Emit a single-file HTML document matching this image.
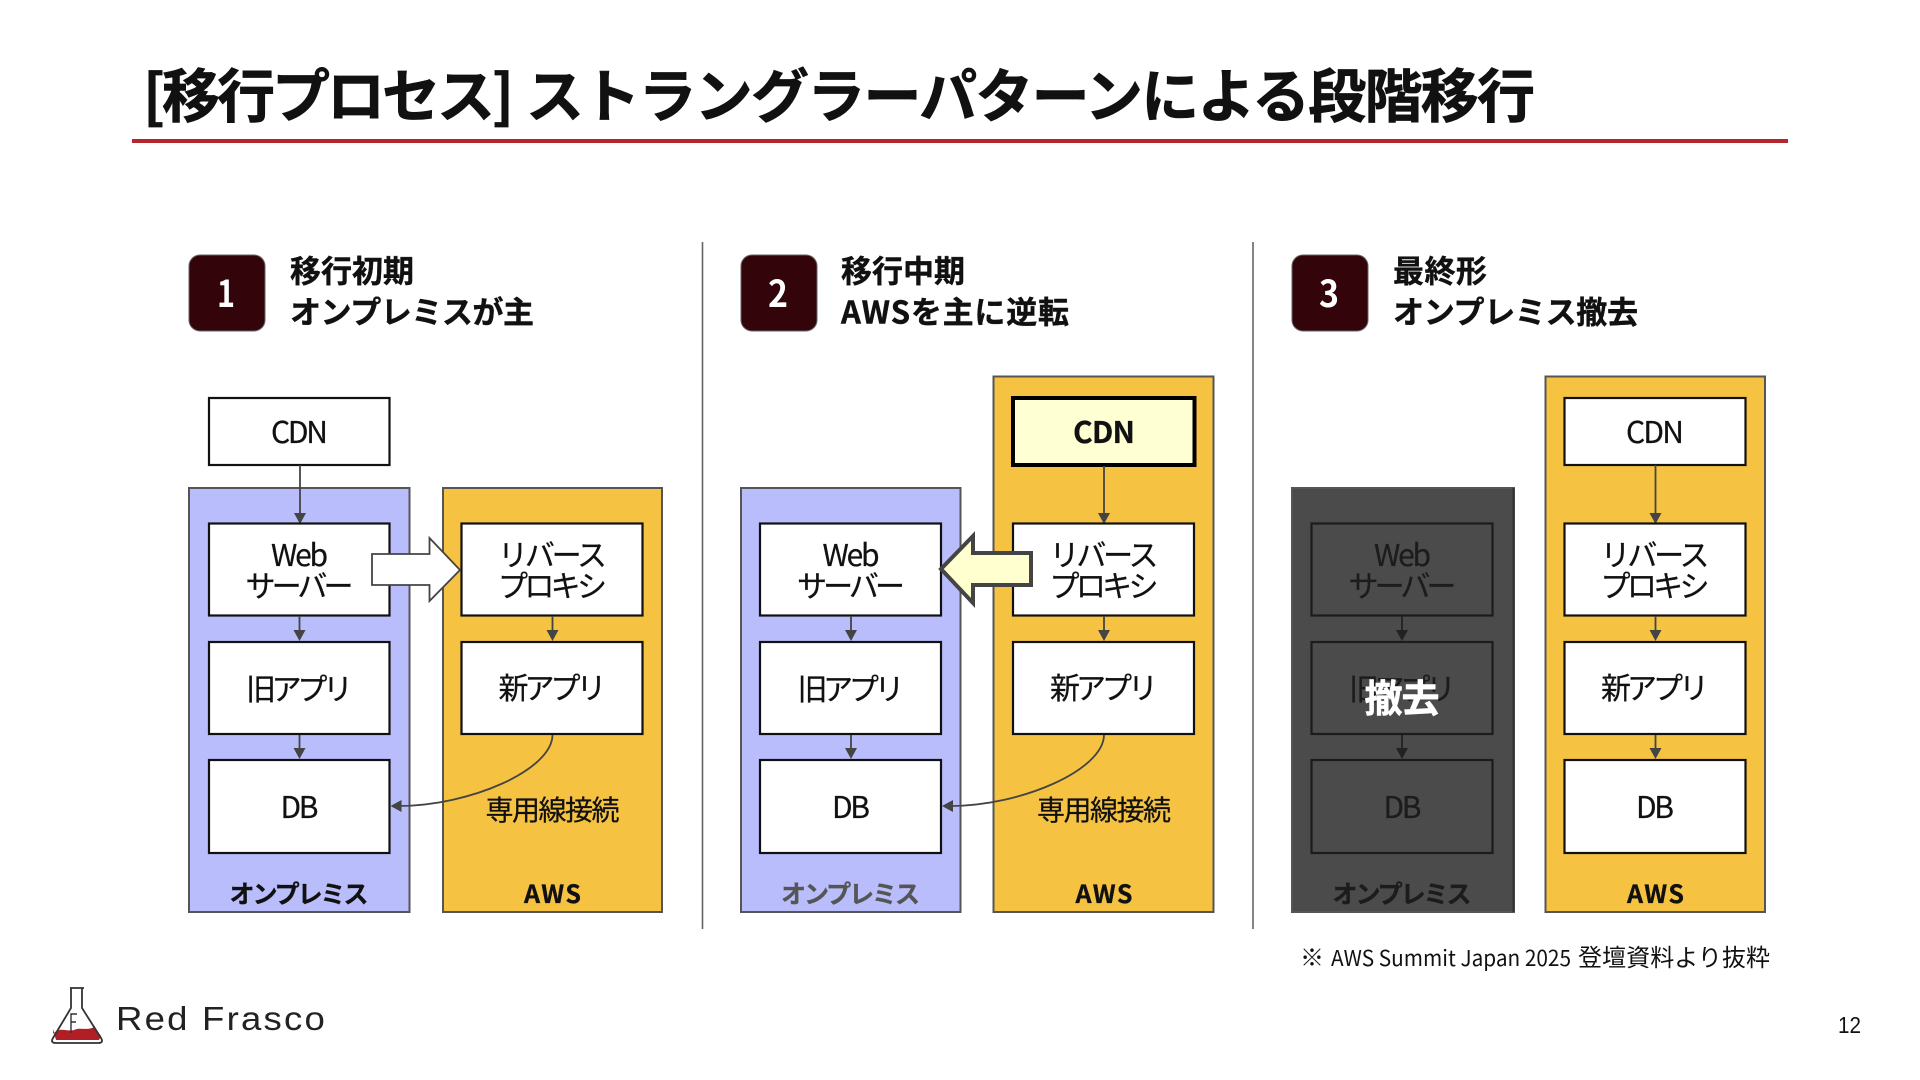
<!DOCTYPE html>
<html lang="ja">
<head>
<meta charset="utf-8">
<title>移行プロセス</title>
<style>
html,body{margin:0;padding:0;background:#fff;width:1920px;height:1080px;overflow:hidden}
svg{display:block}
text{font-family:"Noto Sans CJK JP","Liberation Sans",sans-serif;fill:#111}
.b{font-weight:700}
.t{stroke:#111;stroke-width:.7}
.h{stroke:#111;stroke-width:.4}
.c{text-anchor:middle;font-size:30px;stroke:#111;stroke-width:.25}
.l{text-anchor:middle;font-size:25px;font-weight:700;stroke:#111;stroke-width:.3}
.box{fill:#fff;stroke:#111;stroke-width:2.2}
.on{fill:#b9bdfb;stroke:#555;stroke-width:2}
.aws{fill:#f5c242;stroke:#555;stroke-width:2}
.ln{stroke:#444;stroke-width:1.8;fill:none}
.ah{fill:#444}
.dbox{fill:#4b4b4b;stroke:#1c1c1c;stroke-width:2.2}
.d{fill:#1c1c1c;stroke:#1c1c1c}
</style>
</head>
<body>
<svg xmlns="http://www.w3.org/2000/svg" width="1920" height="1080" viewBox="0 0 1920 1080">
<rect width="1920" height="1080" fill="#fff"/>

<!-- title -->
<text class="b t" x="143" y="117" font-size="58" textLength="371">[移行プロセス]</text>
<text class="b t" x="526" y="117" font-size="58" textLength="1009">ストラングラーパターンによる段階移行</text>
<rect x="132" y="139" width="1656" height="4" fill="#b2262c"/>

<!-- dividers -->
<line x1="702.5" y1="242" x2="702.5" y2="929" stroke="#666" stroke-width="1.6"/>
<line x1="1253" y1="242" x2="1253" y2="929" stroke="#666" stroke-width="1.6"/>

<!-- badges and headings -->
<rect x="189" y="255" width="76" height="76" rx="11" fill="#33040a" stroke="#666" stroke-width="1"/>
<text class="b" x="226" y="307" font-size="37" text-anchor="middle" textLength="18" lengthAdjust="spacingAndGlyphs" style="fill:#fff">1</text>
<text class="b h" x="290" y="282.5" font-size="31" textLength="124">移行初期</text>
<text class="b h" x="290" y="323.5" font-size="31" textLength="244">オンプレミスが主</text>

<rect x="741" y="255" width="76" height="76" rx="11" fill="#33040a" stroke="#666" stroke-width="1"/>
<text class="b" x="778" y="307" font-size="37" text-anchor="middle" textLength="20" lengthAdjust="spacingAndGlyphs" style="fill:#fff">2</text>
<text class="b h" x="841" y="282.5" font-size="31" textLength="124">移行中期</text>
<text class="b h" x="841" y="323.5" font-size="31" textLength="228">AWSを主に逆転</text>

<rect x="1292" y="255" width="76" height="76" rx="11" fill="#33040a" stroke="#666" stroke-width="1"/>
<text class="b" x="1329" y="307" font-size="37" text-anchor="middle" textLength="20" lengthAdjust="spacingAndGlyphs" style="fill:#fff">3</text>
<text class="b h" x="1393" y="282.5" font-size="31" textLength="94">最終形</text>
<text class="b h" x="1393" y="323.5" font-size="31" textLength="245">オンプレミス撤去</text>

<!-- panel 1 -->
<g>
<rect class="on" x="189" y="488" width="220.5" height="424"/>
<rect class="aws" x="443" y="488" width="219" height="424"/>
<rect class="box" x="209" y="398" width="180.5" height="67"/>
<text class="c" x="299.5" y="443" textLength="57">CDN</text>
<line class="ln" x1="300" y1="465" x2="300" y2="515"/><path class="ah" d="M294,513 L306,513 L300,524 Z"/>
<rect class="box" x="209" y="523.5" width="180.5" height="92"/>
<text class="c" x="299.5" y="566" textLength="57">Web</text>
<text class="c" x="299.5" y="597" textLength="108">サーバー</text>
<line class="ln" x1="299.5" y1="616" x2="299.5" y2="632"/><path class="ah" d="M293.5,630 L305.5,630 L299.5,641 Z"/>
<rect class="box" x="209" y="642" width="180.5" height="92"/>
<text class="c" x="299.5" y="700" textLength="107">旧アプリ</text>
<line class="ln" x1="299.5" y1="735" x2="299.5" y2="750"/><path class="ah" d="M293.5,748 L305.5,748 L299.5,759 Z"/>
<rect class="box" x="209" y="760" width="180.5" height="93"/>
<text class="c" x="299.5" y="818" textLength="38">DB</text>
<text class="l" x="299" y="903" textLength="139">オンプレミス</text>
<rect class="box" x="461.5" y="523.5" width="181" height="92"/>
<text class="c" x="552.5" y="566" textLength="109">リバース</text>
<text class="c" x="552.5" y="597" textLength="109">プロキシ</text>
<line class="ln" x1="552.5" y1="616" x2="552.5" y2="632"/><path class="ah" d="M546.5,630 L558.5,630 L552.5,641 Z"/>
<rect class="box" x="461.5" y="642" width="181" height="92"/>
<text class="c" x="552.5" y="699" textLength="108">新アプリ</text>
<text class="c" x="552.5" y="820" style="font-size:28px" textLength="134">専用線接続</text>
<text class="l" x="552.5" y="903" textLength="57">AWS</text>
<path class="ln" d="M552.5,735 C552,770 470,806 398,806"/><path class="ah" d="M390.5,806 L401.5,800 L401.5,812 Z"/>
<path d="M372,554 H429.5 V538 L460,570 L429.5,601 V585 H372 Z" fill="#fff" stroke="#444" stroke-width="1.8"/>
</g>

<!-- panel 2 -->
<g transform="translate(551.5,0)">
<rect class="on" x="189.5" y="488" width="219.5" height="424"/>
<rect class="aws" x="442" y="376.5" width="220" height="535.5"/>
<rect class="box" x="208.5" y="523.5" width="181" height="92"/>
<text class="c" x="299.5" y="566" textLength="57">Web</text>
<text class="c" x="299.5" y="597" textLength="108">サーバー</text>
<line class="ln" x1="299.5" y1="616" x2="299.5" y2="632"/><path class="ah" d="M293.5,630 L305.5,630 L299.5,641 Z"/>
<rect class="box" x="208.5" y="642" width="181" height="92"/>
<text class="c" x="299.5" y="700" textLength="107">旧アプリ</text>
<line class="ln" x1="299.5" y1="735" x2="299.5" y2="750"/><path class="ah" d="M293.5,748 L305.5,748 L299.5,759 Z"/>
<rect class="box" x="208.5" y="760" width="181" height="93"/>
<text class="c" x="299.5" y="818" textLength="38">DB</text>
<text class="l" x="299" y="903" textLength="139" style="fill:#555;stroke:#555">オンプレミス</text>
<rect x="461.5" y="398" width="181.5" height="67" fill="#ffffd4" stroke="#000" stroke-width="4"/>
<text class="c b" x="552.5" y="443" textLength="62">CDN</text>
<line class="ln" x1="552.5" y1="466" x2="552.5" y2="515"/><path class="ah" d="M546.5,513 L558.5,513 L552.5,524 Z"/>
<rect class="box" x="461.5" y="523.5" width="181" height="92"/>
<text class="c" x="552.5" y="566" textLength="109">リバース</text>
<text class="c" x="552.5" y="597" textLength="109">プロキシ</text>
<line class="ln" x1="552.5" y1="616" x2="552.5" y2="632"/><path class="ah" d="M546.5,630 L558.5,630 L552.5,641 Z"/>
<rect class="box" x="461.5" y="642" width="181" height="92"/>
<text class="c" x="552.5" y="699" textLength="108">新アプリ</text>
<text class="c" x="552.5" y="820" style="font-size:28px" textLength="134">専用線接続</text>
<text class="l" x="552.5" y="903" textLength="57">AWS</text>
<path class="ln" d="M552.5,735 C552,770 470,806 398,806"/><path class="ah" d="M390.5,806 L401.5,800 L401.5,812 Z"/>
</g>
<path d="M1031,553 H973 V536 L941,569 L973,603 V585 H1031 Z" fill="#ffffd0" stroke="#444" stroke-width="4"/>

<!-- panel 3 -->
<g transform="translate(1103,0)">
<rect x="189" y="488" width="222" height="424" fill="#4b4b4b" stroke="#555" stroke-width="2"/>
<rect x="409.5" y="488" width="2" height="424" fill="#333"/>
<rect class="aws" x="442.5" y="376.5" width="219.5" height="535.5"/>
<rect class="dbox" x="208.5" y="523.5" width="181" height="92"/>
<text class="c d" x="299.5" y="566" textLength="57">Web</text>
<text class="c d" x="299.5" y="597" textLength="108">サーバー</text>
<line class="ln" style="stroke:#222" x1="299" y1="616" x2="299" y2="632"/><path d="M293,630 L305,630 L299,641 Z" fill="#222"/>
<rect class="dbox" x="208.5" y="642" width="181" height="92"/>
<text class="c d" x="299.5" y="700" textLength="107">旧アプリ</text>
<line class="ln" style="stroke:#222" x1="299" y1="735" x2="299" y2="750"/><path d="M293,748 L305,748 L299,759 Z" fill="#222"/>
<rect class="dbox" x="208.5" y="760" width="181" height="93"/>
<text class="c d" x="299.5" y="818" textLength="38">DB</text>
<text class="l d" x="299" y="903" textLength="139">オンプレミス</text>
<rect class="box" x="461.5" y="398" width="181" height="67"/>
<text class="c" x="552" y="443" textLength="58">CDN</text>
<line class="ln" x1="552.5" y1="465" x2="552.5" y2="515"/><path class="ah" d="M546.5,513 L558.5,513 L552.5,524 Z"/>
<rect class="box" x="461.5" y="523.5" width="181" height="92"/>
<text class="c" x="552" y="566" textLength="109">リバース</text>
<text class="c" x="552" y="597" textLength="109">プロキシ</text>
<line class="ln" x1="552.5" y1="616" x2="552.5" y2="632"/><path class="ah" d="M546.5,630 L558.5,630 L552.5,641 Z"/>
<rect class="box" x="461.5" y="642" width="181" height="92"/>
<text class="c" x="552" y="699" textLength="108">新アプリ</text>
<line class="ln" x1="552.5" y1="735" x2="552.5" y2="750"/><path class="ah" d="M546.5,748 L558.5,748 L552.5,759 Z"/>
<rect class="box" x="461.5" y="760" width="181" height="93"/>
<text class="c" x="552" y="818" textLength="38">DB</text>
<text class="l" x="552.5" y="903" textLength="57">AWS</text>
</g>
<text class="b" x="1402" y="712" font-size="38" text-anchor="middle" textLength="75" style="fill:#fff;stroke:#fff;stroke-width:.6">撤去</text>

<!-- footnote -->
<text x="1300" y="966" font-size="24">※</text>
<text x="1331" y="966" font-size="22" textLength="240" lengthAdjust="spacingAndGlyphs">AWS Summit Japan 2025</text>
<text x="1578" y="966" font-size="24" textLength="192">登壇資料より抜粋</text>
<text x="1838" y="1033" font-size="23" textLength="23" lengthAdjust="spacingAndGlyphs" style="font-family:'Liberation Sans',sans-serif">12</text>

<!-- logo -->
<path d="M53,1029 L56,1040 H99 L101,1036 L94,1027 C88,1031 80,1027 74,1030 C66,1032 60,1026 53,1034 Z" fill="#b01e26"/>
<path d="M70,988 H84 M71,988 V1008 L53,1038 Q50,1043 56,1043 H98 Q104,1043 101,1038 L82,1008 V988" fill="none" stroke="#333" stroke-width="1.8"/>
<path d="M71,1033 V1014 H77 M71,1022 H76" fill="none" stroke="#333" stroke-width="1.4"/>
<text x="116" y="1030" font-size="33" textLength="211" lengthAdjust="spacingAndGlyphs" style="font-family:'Liberation Sans',sans-serif;fill:#222;letter-spacing:2px">Red Frasco</text>
</svg>
</body>
</html>
